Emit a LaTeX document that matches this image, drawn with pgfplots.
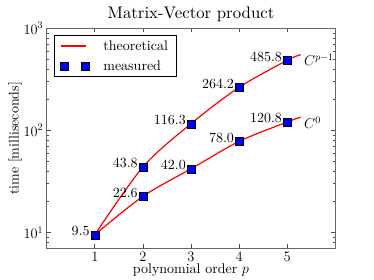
\documentclass[border=0pt]{standalone}
\usepackage{fontspec}
\setmainfont{lmroman10-regular.otf}[ItalicFont=lmroman10-italic.otf, BoldFont=lmroman10-bold.otf]
\usepackage{pgfplots}
\pgfplotsset{compat=1.18}
\pgfplotsset{
  lineleg/.style={legend image code/.code={\draw[##1] (0pt,0pt) -- (25pt,0pt);}},
  markleg/.style={legend image code/.code={\draw[##1] plot coordinates {(3pt,0pt) (24pt,0pt)};}},
}
\begin{document}
\begin{tikzpicture}
\useasboundingbox (-46.7pt,-31.7pt) rectangle (327.3pt,248.3pt);
\begin{axis}[
  scale only axis, width=288.6pt, height=220pt,
  xmin=0, xmax=6, ymin=7, ymax=1000, ymode=log,
  xtick={1,2,3,4,5},
  font=\fontsize{14}{16.8}\selectfont,
  axis line style={black!60, line width=0.8pt},
  tick style={black!70, line width=0.6pt},
  major tick length=4pt, minor tick length=2pt,
  title={\fontsize{16.8}{20}\selectfont Matrix-Vector product},
  title style={at={(axis description cs:0.5,1)}, anchor=base, yshift=4pt, inner sep=0pt},
  xlabel={polynomial order $p$},
  ylabel={time [milliseconds]},
  x label style={at={(axis description cs:0.5,0)}, anchor=base, yshift=-25.7pt, inner sep=0pt},
  y label style={at={(axis description cs:0,0.5)}, anchor=base, yshift=28pt, inner sep=0pt},
  legend style={at={(axis description cs:0,1)}, anchor=north west, xshift=7.3pt, yshift=-6.7pt,
    draw=black, line width=0.7pt, inner xsep=6pt, inner ysep=3pt, row sep=5pt,
    font=\fontsize{14}{16.8}\selectfont,
    /tikz/every odd column/.append style={column sep=12pt}},
  legend cell align=left,
]
\addplot[red, line width=1.2pt, smooth, lineleg]
  coordinates {(1,9.5) (2,43.8) (3,116.3) (4,264.2) (5,485.8) (5.28,551)};
\addlegendentry{theoretical}
\addplot[red, line width=1.2pt, smooth, forget plot]
  coordinates {(1,9.5) (2,22.6) (3,42.0) (4,78.0) (5,120.8) (5.28,135)};
\addplot[only marks, mark=square*, mark size=4pt,
  mark options={fill=blue, draw=black, line width=0.3pt}, markleg]
  coordinates {(1,9.5) (2,43.8) (3,116.3) (4,264.2) (5,485.8)};
\addlegendentry{measured}
\addplot[only marks, mark=square*, mark size=4pt, forget plot,
  mark options={fill=blue, draw=black, line width=0.3pt}]
  coordinates {(2,22.6) (3,42.0) (4,78.0) (5,120.8)};
\addplot[only marks, mark=none, forget plot, nodes near coords, point meta=explicit symbolic,
  nodes near coords style={anchor=base east, inner sep=0pt, xshift=-5pt, yshift=-0.8pt, black}]
  coordinates {(1,9.5) [9.5] (2,43.8) [43.8] (3,116.3) [116.3] (4,264.2) [264.2] (5,485.8) [485.8]
               (2,22.6) [22.6] (3,42.0) [42.0] (4,78.0) [78.0] (5,120.8) [120.8]};
\node[anchor=base west, inner sep=0pt] at (axis cs:5.35,434) {$C^{p-1}$};
\node[anchor=base west, inner sep=0pt] at (axis cs:5.35,104.6) {$C^{0}$};
\end{axis}
\end{tikzpicture}
\end{document}
